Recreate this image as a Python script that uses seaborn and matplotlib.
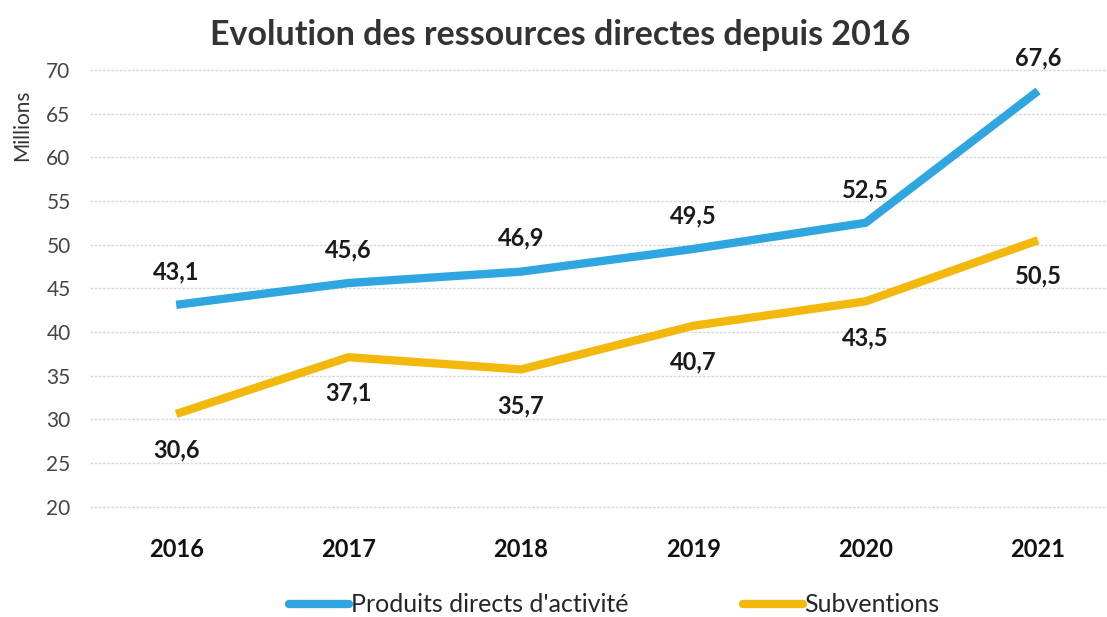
import matplotlib
matplotlib.use("Agg")
import matplotlib.pyplot as plt
import seaborn as sns
import pandas as pd
from matplotlib.lines import Line2D

years = ["2016", "2017", "2018", "2019", "2020", "2021"]
produits = [43.1, 45.6, 46.9, 49.5, 52.5, 67.6]
subventions = [30.6, 37.1, 35.7, 40.7, 43.5, 50.5]
series_names = ["Produits directs d'activité", "Subventions"]
colors = ["#2FA6DF", "#F2B90C"]
title = "Evolution des ressources directes depuis 2016"

sns.set_theme(style="white")
plt.rcParams['font.family'] = ['Lato', 'DejaVu Sans']

df = pd.DataFrame({
    "year": years * 2,
    "value": produits + subventions,
    "serie": [series_names[0]] * len(years) + [series_names[1]] * len(years),
})
df["x"] = list(range(len(years))) * 2

fig = plt.figure(figsize=(11.07, 6.17), dpi=100)
ax = fig.add_axes([90 / 1107, 1 - 510 / 617, 1 - 90 / 1107, (510 - 63) / 617])

sns.lineplot(data=df, x="x", y="value", hue="serie", palette=colors,
             linewidth=6, ax=ax, legend=False, solid_capstyle="butt")

ax.set_ylim(19.6, 70.8)
ax.set_xlim(-0.5, 5.4)
ax.set_yticks(range(20, 71, 5))
ax.set_xticks(range(len(years)))
ax.set_xticklabels(years)
ax.yaxis.grid(True, color="#D5D9E0", linewidth=1, linestyle=(0, (2, 1)))
for s in ax.spines.values():
    s.set_visible(False)
ax.tick_params(axis="y", length=0, labelsize=15, labelcolor="#444444", pad=14)
ax.tick_params(axis="x", length=0, labelsize=17, labelcolor="#111111", pad=20)
for lbl in ax.get_xticklabels():
    lbl.set_fontweight("bold")
ax.set_xlabel("")
ax.set_ylabel("")

def fmt(v):
    return f"{v:.1f}".replace(".", ",")

for i, v in enumerate(produits):
    ax.annotate(fmt(v), (i, v), xytext=(0, 24), textcoords="offset points",
                ha="center", va="center", fontsize=17, fontweight="bold", color="#1a1a1a")
for i, v in enumerate(subventions):
    ax.annotate(fmt(v), (i, v), xytext=(0, -26), textcoords="offset points",
                ha="center", va="center", fontsize=17, fontweight="bold", color="#1a1a1a")

fig.text(560 / 1107, 1 - 35 / 617, title, ha="center", va="center",
         fontsize=24.5, fontweight="bold", color="#333333")
fig.text(22 / 1107, 1 - 125 / 617, "Millions", rotation=90, ha="center",
         va="center", fontsize=15, color="#333333")

handles = [Line2D([0], [0], color=c, linewidth=6) for c in colors]
fig.legend(handles, series_names, loc="center", bbox_to_anchor=(0.555, 1 - 605 / 617),
           ncol=2, frameon=False, fontsize=18, handlelength=2.4, handletextpad=0.05,
           columnspacing=4.6)

fig.savefig("out.png", dpi=100)
